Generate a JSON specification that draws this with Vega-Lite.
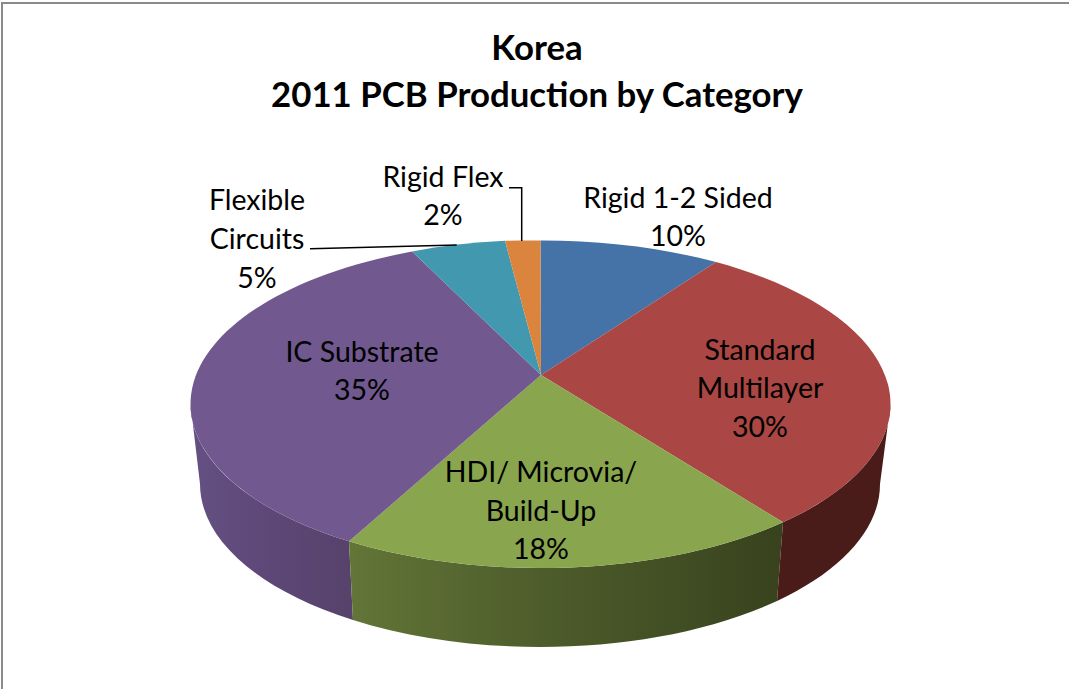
{"$schema":"https://vega.github.io/schema/vega-lite/v6.json","width":1069,"height":689,"padding":0,"autosize":{"type":"none"},"background":"white","view":{"stroke":null},
"title":{"text":["Korea","2011 PCB Production by Category"],"font":"Lato","fontWeight":"bold","fontSize":34.8,"lineHeight":47.5,"color":"#000000","anchor":"middle","frame":"group","offset":-116,"dx":2.5},
"datasets":{"slices":[
{"category":"Rigid 1-2 Sided","share":10,"label":"Rigid 1-2 Sided\n10%"},
{"category":"Standard Multilayer","share":30,"label":"Standard\nMultilayer\n30%"},
{"category":"HDI/ Microvia/ Build-Up","share":18,"label":"HDI/ Microvia/\nBuild-Up\n18%"},
{"category":"IC Substrate","share":35,"label":"IC Substrate\n35%"},
{"category":"Flexible Circuits","share":5,"label":"Flexible\nCircuits\n5%"},
{"category":"Rigid Flex","share":2,"label":"Rigid Flex\n2%"}],
"frame":[{"part":"chart border"}]},
"layer":[
{"data":{"name":"frame"},"mark":{"type":"point","filled":false,"opacity":1,"size":4,"stroke":"#8a8a8a","strokeWidth":2,"shape":"M-532.5 344.5 L-532.5 -341.5 L534.5 -341.5"}},
{"data":{"name":"slices"},"transform":[{"filter":"datum.category==='IC Substrate'"}],"mark":{"type":"point","filled":true,"opacity":1,"size":4,"shape":"M-344 59.5 L-334.5 139.5 A340 163 0 0 0 -181.5 275.5 L-185.5 196.8 A350 164 0 0 1 -344 59.5 Z","fill":{"gradient":"linear","x1":0,"y1":0,"x2":1,"y2":0,"stops":[{"offset":0,"color":"#655083"},{"offset":0.5,"color":"#5d4777"},{"offset":1,"color":"#57426b"}]}}},
{"data":{"name":"slices"},"transform":[{"filter":"datum.category==='HDI/ Microvia/ Build-Up'"}],"mark":{"type":"point","filled":true,"opacity":1,"size":4,"shape":"M-185.5 196.8 L-181.5 275.5 A340 163 0 0 0 242.5 256.5 L248.5 177.75 A350 164 0 0 1 -185.5 196.8 Z","fill":{"gradient":"linear","x1":0,"y1":0,"x2":1,"y2":0,"stops":[{"offset":0,"color":"#637537"},{"offset":0.45,"color":"#4d5c2b"},{"offset":1,"color":"#38421d"}]}}},
{"data":{"name":"slices"},"transform":[{"filter":"datum.category==='Standard Multilayer'"}],"mark":{"type":"point","filled":true,"opacity":1,"size":4,"shape":"M248.5 177.75 L242.5 256.5 A340 163 0 0 0 345.5 139.5 L356 59.5 A350 164 0 0 1 248.5 177.75 Z","fill":"#491c1a"}},
{"data":{"name":"slices"},"mark":{"type":"point","filled":true,"opacity":1,"size":4},"encoding":{
"shape":{"field":"category","type":"nominal","legend":null,"scale":{"domain":["Rigid 1-2 Sided","Standard Multilayer","HDI/ Microvia/ Build-Up","IC Substrate","Flexible Circuits","Rigid Flex"],"range":["M6.5 30.5 L6 -104 A350 164 0 0 1 181.5 -82.4 Z","M6.5 30.5 L181.5 -82.4 A350 164 0 0 1 248.5 177.75 Z","M6.5 30.5 L248.5 177.75 A350 164 0 0 1 -185.5 196.8 Z","M6.5 30.5 L-185.5 196.8 A350 164 0 0 1 -122.5 -93 Z","M6.5 30.5 L-122.5 -93 A350 164 0 0 1 -29.5 -103.65 Z","M6.5 30.5 L-29.5 -103.65 A350 164 0 0 1 6 -104 Z"]}},
"color":{"field":"category","type":"nominal","legend":null,"scale":{"domain":["Rigid 1-2 Sided","Standard Multilayer","HDI/ Microvia/ Build-Up","IC Substrate","Flexible Circuits","Rigid Flex"],"range":["#4572a7","#aa4643","#89a54e","#71588f","#4198af","#db843d"]}}}},
{"data":{"name":"slices"},"transform":[{"filter":"datum.category==='Flexible Circuits'"}],"mark":{"type":"point","filled":false,"opacity":1,"size":4,"stroke":"#000000","strokeWidth":1.5,"shape":"M-224.5 -95.8 L-77.8 -99.5"}},
{"data":{"name":"slices"},"transform":[{"filter":"datum.category==='Rigid Flex'"}],"mark":{"type":"point","filled":false,"opacity":1,"size":4,"stroke":"#000000","strokeWidth":1.5,"shape":"M-25.5 -156.8 L-12.8 -156.8 L-12.8 -103.5"}},
{"data":{"name":"slices"},"transform":[{"filter":"datum.category==='Rigid 1-2 Sided'"}],"mark":{"type":"text","font":"Lato","fontSize":28.5,"lineHeight":38.7,"lineBreak":"\n","align":"center","baseline":"middle","color":"#000000","dx":143.5,"dy":-145.9},"encoding":{"text":{"field":"label","type":"nominal"}}},
{"data":{"name":"slices"},"transform":[{"filter":"datum.category==='Standard Multilayer'"}],"mark":{"type":"text","font":"Lato","fontSize":28.5,"lineHeight":38.7,"lineBreak":"\n","align":"center","baseline":"middle","color":"#000000","dx":225.5,"dy":6},"encoding":{"text":{"field":"label","type":"nominal"}}},
{"data":{"name":"slices"},"transform":[{"filter":"datum.category==='HDI/ Microvia/ Build-Up'"}],"mark":{"type":"text","font":"Lato","fontSize":28.5,"lineHeight":38.7,"lineBreak":"\n","align":"center","baseline":"middle","color":"#000000","dx":6.5,"dy":128.5},"encoding":{"text":{"field":"label","type":"nominal"}}},
{"data":{"name":"slices"},"transform":[{"filter":"datum.category==='IC Substrate'"}],"mark":{"type":"text","font":"Lato","fontSize":28.5,"lineHeight":38.7,"lineBreak":"\n","align":"center","baseline":"middle","color":"#000000","dx":-172.5,"dy":8.1},"encoding":{"text":{"field":"label","type":"nominal"}}},
{"data":{"name":"slices"},"transform":[{"filter":"datum.category==='Flexible Circuits'"}],"mark":{"type":"text","font":"Lato","fontSize":28.5,"lineHeight":38.7,"lineBreak":"\n","align":"center","baseline":"middle","color":"#000000","dx":-277.5,"dy":-143.2},"encoding":{"text":{"field":"label","type":"nominal"}}},
{"data":{"name":"slices"},"transform":[{"filter":"datum.category==='Rigid Flex'"}],"mark":{"type":"text","font":"Lato","fontSize":28.5,"lineHeight":38.7,"lineBreak":"\n","align":"center","baseline":"middle","color":"#000000","dx":-91.5,"dy":-166.9},"encoding":{"text":{"field":"label","type":"nominal"}}}
]}
